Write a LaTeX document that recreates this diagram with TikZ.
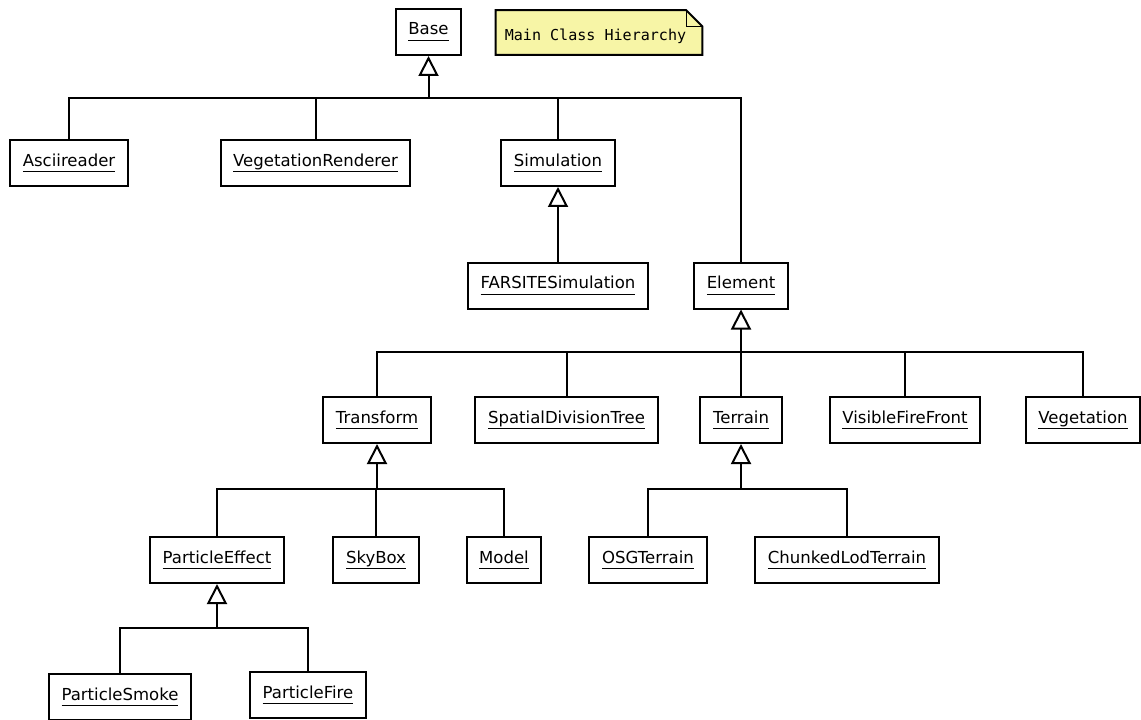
\documentclass[tikz,border=0pt]{standalone}
\usepackage{fontspec}
\setmainfont{DejaVu Sans}
\setmonofont{DejaVu Sans Mono}
\usetikzlibrary{arrows.meta,backgrounds}
\definecolor{notefill}{HTML}{F7F5A6}
\newcommand{\cname}[1]{\underline{\vphantom{g}#1}}

\begin{document}
\begin{tikzpicture}[x=0.75pt,y=-0.75pt,
  cls/.style={draw, line width=1.5pt, minimum height=34.5pt, inner xsep=9.5pt, font=\fontsize{12.4}{14}\selectfont},
  notebox/.style={minimum width=154.5pt, minimum height=33pt, inner sep=0pt},
  notetext/.style={inner sep=0pt, font=\ttfamily\fontsize{11.3}{13}\selectfont},
  lnk/.style={line width=1.5pt},
  inh/.style={line width=1.5pt, -{Triangle[open, length=15pt, width=15pt]}}]
\useasboundingbox (0,0) rectangle (1141,720);
\node[cls] (base) at (428.5,32){\cname{Base}};
\node[notebox] (note) at (599,32.5){};
\node[notetext] (notelabel) at (595.5,36){Main Class Hierarchy};
\begin{scope}[on background layer]
\fill[notefill] (note.south west) -- (note.north west) -- ([xshift=-12pt]note.north east) -- ([yshift=-12pt]note.north east) -- (note.south east) -- cycle;
\end{scope}
\draw[line width=1.5pt] (note.south west) -- (note.north west) -- ([xshift=-12pt]note.north east) -- ([yshift=-12pt]note.north east) -- (note.south east) -- cycle;
\draw[line width=1pt] ([xshift=-12pt]note.north east) |- ([yshift=-12pt]note.north east);
% first level
\node[cls] (asciireader) at (69,163){\cname{Asciireader}};
\node[cls] (vegrenderer) at (315.5,163){\cname{VegetationRenderer}};
\node[cls] (simulation) at (558,163){\cname{Simulation}};
\node[cls] (farsite) at (558,285.5){\cname{FARSITESimulation}};
\node[cls] (element) at (741,285.5){\cname{Element}};
\coordinate (j0) at (428.5,98);
\draw[inh] (j0) -- (base);
\draw[lnk] (asciireader.north) |- (j0) -| (element.north);
\draw[lnk] (vegrenderer) -- (vegrenderer |- j0);
\draw[lnk] (simulation) -- (simulation |- j0);
\draw[inh] (farsite) -- (simulation);
% children of Element
\node[cls] (transform) at (377,420){\cname{Transform}};
\node[cls] (spatialtree) at (566.5,420){\cname{SpatialDivisionTree}};
\node[cls] (terrain) at (741,420){\cname{Terrain}};
\node[cls] (firefront) at (905,420){\cname{VisibleFireFront}};
\node[cls] (vegetation) at (1083,420){\cname{Vegetation}};
\coordinate (j1) at (741,352);
\draw[inh] (j1) -- (element);
\draw[lnk] (transform.north) |- (j1) -| (vegetation.north);
\draw[lnk] (spatialtree) -- (spatialtree |- j1);
\draw[lnk] (terrain) -- (j1);
\draw[lnk] (firefront) -- (firefront |- j1);
% children of Transform and Terrain
\node[cls] (particleeffect) at (217,560){\cname{ParticleEffect}};
\node[cls] (skybox) at (376,560){\cname{SkyBox}};
\node[cls] (model) at (504,560){\cname{Model}};
\node[cls] (osgterrain) at (648,560){\cname{OSGTerrain}};
\node[cls] (chunkedterrain) at (847,560){\cname{ChunkedLodTerrain}};
\coordinate (j2) at (377,489);
\draw[inh] (j2) -- (transform);
\draw[lnk] (particleeffect.north) |- (j2) -| (model.north);
\draw[lnk] (skybox) -- (skybox |- j2);
\coordinate (j3) at (741,489);
\draw[inh] (j3) -- (terrain);
\draw[lnk] (osgterrain.north) |- (j3) -| (chunkedterrain.north);
% children of ParticleEffect
\node[cls] (particlesmoke) at (120,697){\cname{ParticleSmoke}};
\node[cls] (particlefire) at (308,695){\cname{ParticleFire}};
\coordinate (j4) at (217,628);
\draw[inh] (j4) -- (particleeffect);
\draw[lnk] (particlesmoke.north) |- (j4) -| (particlefire.north);
\end{tikzpicture}
\end{document}
